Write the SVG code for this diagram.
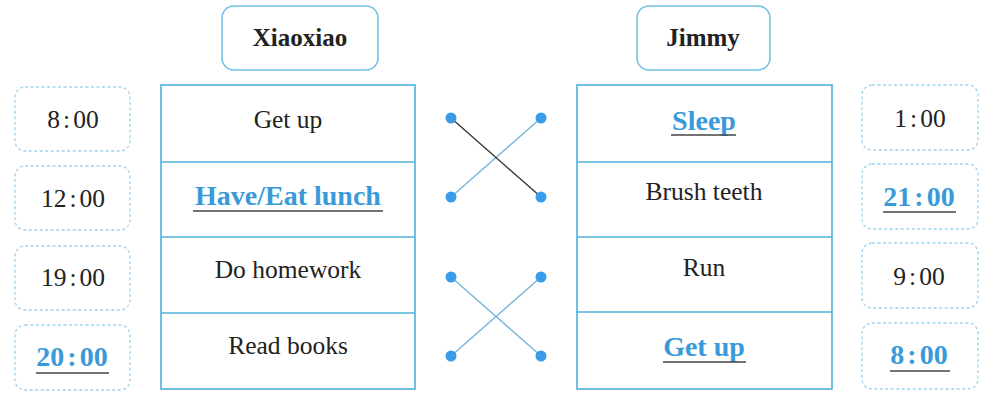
<svg xmlns="http://www.w3.org/2000/svg" width="1002" height="404" viewBox="0 0 1002 404">
<style>
.hdr{fill:#fff;stroke:#6fc0e4;stroke-width:1.5}
.tbl{fill:#fff;stroke:#4fb0da;stroke-width:1.6}
.sep{stroke:#4fb0da;stroke-width:1.6}
.tm{fill:#fff;stroke:#9fd3ee;stroke-width:1.3;stroke-dasharray:3 2.5}
.t{font-family:"Liberation Serif",serif;font-size:25.5px;fill:#222;text-anchor:middle}
.h{font-family:"Liberation Serif",serif;font-size:25px;font-weight:bold;fill:#222;text-anchor:middle}
.a{font-family:"Liberation Serif",serif;font-size:28px;font-weight:bold;fill:#3a9ad9;text-anchor:middle}
.ul{stroke:#444;stroke-width:1.5}
.dot{fill:#3a9be8}
.ln{stroke:#7ab8da;stroke-width:1.5}
.dk{stroke:#333;stroke-width:1.3}
</style>
<rect width="1002" height="404" fill="#fff"/>
<g id="xiaoxiao-header"><rect class="hdr" x="222" y="6" width="156" height="64" rx="12"/><text class="h" x="300" y="46">Xiaoxiao</text></g>
<g id="jimmy-header"><rect class="hdr" x="637" y="6" width="133" height="64" rx="12"/><text class="h" x="703" y="46">Jimmy</text></g>
<g id="left-table">
<rect class="tbl" x="161" y="85" width="254" height="304"/>
<line class="sep" x1="161" y1="162" x2="415" y2="162"/>
<line class="sep" x1="161" y1="237" x2="415" y2="237"/>
<line class="sep" x1="161" y1="313" x2="415" y2="313"/>
</g>
<g id="l1"><text class="t" x="288" y="128">Get up</text></g>
<g id="l2"><text class="a" x="288" y="205">Have/Eat lunch</text><line class="ul" x1="193" y1="211" x2="383" y2="211"/></g>
<g id="l3"><text class="t" x="288" y="278">Do homework</text></g>
<g id="l4"><text class="t" x="288" y="354">Read books</text></g>
<g id="right-table">
<rect class="tbl" x="577" y="85" width="255" height="304"/>
<line class="sep" x1="577" y1="162" x2="832" y2="162"/>
<line class="sep" x1="577" y1="237" x2="832" y2="237"/>
<line class="sep" x1="577" y1="312" x2="832" y2="312"/>
</g>
<g id="r1"><text class="a" x="704" y="130">Sleep</text><line class="ul" x1="671" y1="135" x2="736" y2="135"/></g>
<g id="r2"><text class="t" x="704" y="200">Brush teeth</text></g>
<g id="r3"><text class="t" x="704" y="276">Run</text></g>
<g id="r4"><text class="a" x="704" y="356">Get up</text><line class="ul" x1="663" y1="362" x2="746" y2="362"/></g>
<g id="tl1"><rect class="tm" x="15" y="87" width="115" height="64" rx="10"/><text class="t" x="73" y="128">8<tspan dx="3">:</tspan><tspan dx="3">00</tspan></text></g>
<g id="tl2"><rect class="tm" x="15" y="166" width="115" height="64" rx="10"/><text class="t" x="73" y="207">12<tspan dx="3">:</tspan><tspan dx="3">00</tspan></text></g>
<g id="tl3"><rect class="tm" x="15" y="246" width="115" height="64" rx="10"/><text class="t" x="73" y="286">19<tspan dx="3">:</tspan><tspan dx="3">00</tspan></text></g>
<g id="tl4"><rect class="tm" x="15" y="325" width="115" height="65" rx="10"/><text class="a" x="72" y="366">20<tspan dx="3">:</tspan><tspan dx="3">00</tspan></text><line class="ul" x1="36" y1="373" x2="109" y2="373"/></g>
<g id="tr1"><rect class="tm" x="862" y="85" width="116" height="65" rx="10"/><text class="t" x="920" y="127">1<tspan dx="3">:</tspan><tspan dx="3">00</tspan></text></g>
<g id="tr2"><rect class="tm" x="862" y="164" width="116" height="65" rx="10"/><text class="a" x="919" y="206">21<tspan dx="3">:</tspan><tspan dx="3">00</tspan></text><line class="ul" x1="883" y1="212" x2="956" y2="212"/></g>
<g id="tr3"><rect class="tm" x="862" y="243" width="116" height="65" rx="10"/><text class="t" x="919" y="285">9<tspan dx="3">:</tspan><tspan dx="3">00</tspan></text></g>
<g id="tr4"><rect class="tm" x="862" y="323" width="116" height="66" rx="10"/><text class="a" x="919" y="364">8<tspan dx="3">:</tspan><tspan dx="3">00</tspan></text><line class="ul" x1="890" y1="371" x2="950" y2="371"/></g>
<g id="connectors">
<line class="ln" x1="451" y1="197" x2="541" y2="118"/>
<line class="dk" x1="451" y1="118" x2="541" y2="197"/>
<line class="ln" x1="451" y1="277" x2="541" y2="356"/>
<line class="ln" x1="451" y1="356" x2="541" y2="277"/>
<circle class="dot" cx="451" cy="118" r="5.5"/>
<circle class="dot" cx="541" cy="118" r="5.5"/>
<circle class="dot" cx="451" cy="197" r="5.5"/>
<circle class="dot" cx="541" cy="197" r="5.5"/>
<circle class="dot" cx="451" cy="277" r="5.5"/>
<circle class="dot" cx="541" cy="277" r="5.5"/>
<circle class="dot" cx="451" cy="356" r="5.5"/>
<circle class="dot" cx="541" cy="356" r="5.5"/>
</g>
</svg>
